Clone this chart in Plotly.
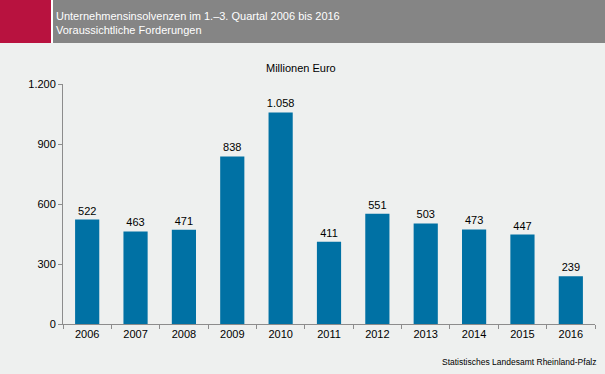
import plotly.graph_objects as go

years = ["2006", "2007", "2008", "2009", "2010", "2011", "2012", "2013", "2014", "2015", "2016"]
values = [522, 463, 471, 838, 1058, 411, 551, 503, 473, 447, 239]
y_ticks = [0, 300, 600, 900, 1200]
y_tick_labels = ["0", "300", "600", "900", "1.200"]
title_lines = ["Unternehmensinsolvenzen im 1.–3. Quartal 2006 bis 2016", "Voraussichtliche Forderungen"]
unit_label = "Millionen Euro"
source_label = "Statistisches Landesamt Rheinland-Pfalz"

def de(v):
    return f"{v:,}".replace(",", ".")

W, H = 605, 374
L, R, T, B = 63, 10, 84, 50
PW = W - L - R
PH = H - T - B

def px(x):
    return (x - L) / PW

def py(y):
    return (H - B - y) / PH

font = "Liberation Sans, Arial, sans-serif"

fig = go.Figure(go.Bar(
    x=years, y=values,
    marker=dict(color="#0071a4", line=dict(width=0)),
    text=[de(v) for v in values], textposition="outside",
    textfont=dict(family=font, size=11, color="#000000"),
    constraintext="none",
    cliponaxis=False,
    hoverinfo="skip",
))

fig.update_layout(
    width=W, height=H,
    margin=dict(l=L, r=R, t=T, b=B),
    paper_bgcolor="#eef0ef", plot_bgcolor="#eef0ef",
    bargap=0.5,
    showlegend=False,
    xaxis=dict(type="category", showgrid=False, showline=True, linecolor="#8c8c8c", linewidth=1,
               ticks="outside", ticklen=4, tickcolor="#8c8c8c", tickson="boundaries",
               tickfont=dict(family=font, size=11, color="#000000")),
    yaxis=dict(range=[0, 1200], showgrid=False, showline=True, linecolor="#8c8c8c", linewidth=1,
               ticks="outside", ticklen=4, tickcolor="#8c8c8c",
               tickvals=y_ticks, ticktext=y_tick_labels, zeroline=False,
               tickfont=dict(family=font, size=11, color="#000000")),
    shapes=[
        dict(type="rect", xref="paper", yref="paper", x0=px(0), x1=px(51), y0=py(0), y1=py(43),
             fillcolor="#b8123f", line=dict(width=0), layer="below"),
        dict(type="rect", xref="paper", yref="paper", x0=px(51), x1=px(53), y0=py(0), y1=py(43),
             fillcolor="#ffffff", line=dict(width=0), layer="below"),
        dict(type="rect", xref="paper", yref="paper", x0=px(53), x1=px(W), y0=py(0), y1=py(43),
             fillcolor="#858585", line=dict(width=0), layer="below"),
    ],
    annotations=[
        dict(xref="paper", yref="paper", x=px(54), y=py(8), xanchor="left", yanchor="top",
             text=title_lines[0] + "<br>" + title_lines[1], showarrow=False, align="left",
             font=dict(family=font, size=11, color="#ffffff")),
        dict(xref="paper", yref="paper", x=px(301), y=py(68), xanchor="center", yanchor="middle",
             text=unit_label, showarrow=False, font=dict(family=font, size=11, color="#000000")),
        dict(xref="paper", yref="paper", x=px(599), y=py(362), xanchor="right", yanchor="middle",
             text=source_label, showarrow=False, font=dict(family=font, size=8.5, color="#000000")),
    ],
)

fig.write_html("out.html", config={"displayModeBar": False, "staticPlot": True},
               post_script="document.body.style.margin='0';document.body.style.padding='0';")
